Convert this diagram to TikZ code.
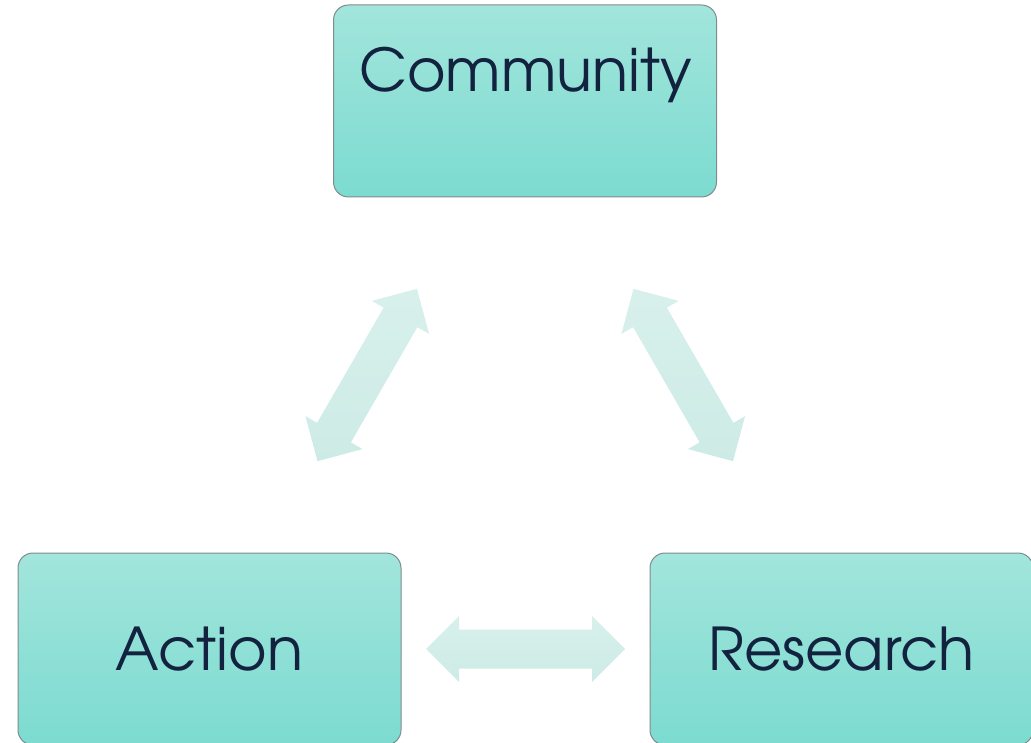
\documentclass[tikz,border=0pt]{standalone}
\usepackage{fontspec}
\newfontfamily\advfont{texgyreadventor-regular.otf}
\usetikzlibrary{calc}
\definecolor{boxtop}{HTML}{A2E5DC}
\definecolor{boxbot}{HTML}{7CDBD0}
\definecolor{boxline}{HTML}{7F8C8B}
\definecolor{txt}{HTML}{13223F}
\definecolor{arrowtop}{HTML}{D8F0EC}
\definecolor{arrowbot}{HTML}{CDEBE6}
\tikzset{
  box/.style={draw=boxline, line width=1pt, rounded corners=15pt,
    top color=boxtop, bottom color=boxbot,
    minimum width=383pt, minimum height=192pt, inner sep=0pt,
    font=\advfont\fontsize{59}{70}\selectfont, text=txt},
  lbl/.style={font=\advfont\fontsize{59}{70}\selectfont, text=txt, inner sep=0pt},
  blockarrow/.style={top color=arrowtop, bottom color=arrowbot, draw=none},
  dblarrow/.pic={
    \path[blockarrow] (-99.5,0) -- (-66.5,-33) -- (-66.5,-19.5) -- (66.5,-19.5)
      -- (66.5,-33) -- (99.5,0) -- (66.5,33) -- (66.5,19.5) -- (-66.5,19.5)
      -- (-66.5,33) -- cycle;
  }
}
\begin{document}
\begin{tikzpicture}[x=1pt,y=-1pt]
\useasboundingbox (0,0) rectangle (1031,743);
\clip (0,0) rectangle (1031,743);
\node[box] (community) at (525,101) {};
\node[lbl, anchor=base] (communitytext) at (525.5,92) {Community};
\node[box] (action) at (209.5,649) {Action};
\node[box] (research) at (841.5,649) {Research};
\pic[rotate=60] (arrowCA) at ($(action)!0.5!(community)$) {dblarrow};
\pic[rotate=-60] (arrowCR) at ($(research)!0.5!(community)$) {dblarrow};
\pic (arrowAR) at ($(action)!0.5!(research)$) {dblarrow};
\end{tikzpicture}
\end{document}
